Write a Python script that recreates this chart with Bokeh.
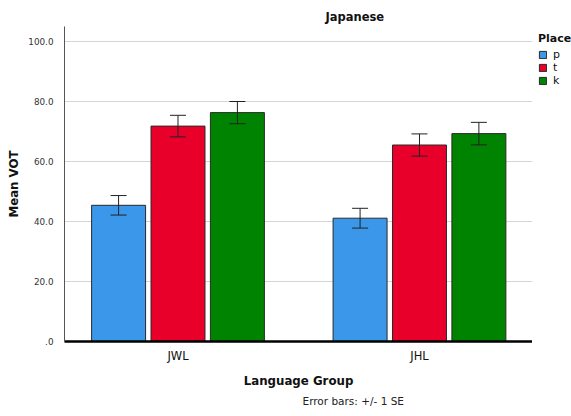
from bokeh.plotting import figure
from bokeh.layouts import row
from bokeh.models import (ColumnDataSource, Range1d, FixedTicker, Whisker, TeeHead,
                          Legend, LegendItem, Title)
from bokeh.transform import dodge
from bokeh.embed import file_html
from bokeh.resources import INLINE

# Mean VOT by language group and place of articulation, with +/- 1 SE
groups = ["JWL", "JHL"]
group_pos = [0, 1]
places = ["p", "t", "k"]
mean_p = [45.4, 41.1]
se_p = [3.25, 3.3]
mean_t = [71.8, 65.5]
se_t = [3.6, 3.7]
mean_k = [76.3, 69.3]
se_k = [3.7, 3.75]
y_ticks = [0, 20, 40, 60, 80, 100]
y_tick_labels = [".0", "20.0", "40.0", "60.0", "80.0", "100.0"]

colors = {"p": "#3a97ea", "t": "#e8002b", "k": "#008300"}
offsets = {"p": -0.246, "t": 0.0, "k": 0.246}
series = {"p": (mean_p, se_p), "t": (mean_t, se_t), "k": (mean_k, se_k)}

FONT = "DejaVu Sans"
BAR_LINE = "#2a2a2a"

p = figure(width=532, height=416, output_backend="svg", toolbar_location=None,
           x_range=Range1d(-0.470, 1.468), y_range=Range1d(0, 105),
           min_border_left=64, min_border_right=0, min_border_top=26,
           min_border_bottom=75)
p.outline_line_color = None
p.background_fill_color = "white"
p.border_fill_color = "white"

for place in places:
    means, ses = series[place]
    src = ColumnDataSource(dict(
        x=group_pos, top=means,
        lower=[m - s for m, s in zip(means, ses)],
        upper=[m + s for m, s in zip(means, ses)],
    ))
    p.vbar(x=dodge("x", offsets[place], range=p.x_range), top="top", bottom=0,
           width=0.2236, source=src, fill_color=colors[place],
           line_color=BAR_LINE, line_width=1)
    w = Whisker(base=dodge("x", offsets[place], range=p.x_range), lower="lower",
                upper="upper", source=src, level="overlay",
                line_color="#222222", line_width=1,
                upper_head=TeeHead(size=16, line_color="#222222", line_width=1),
                lower_head=TeeHead(size=16, line_color="#222222", line_width=1))
    p.add_layout(w)

# heading
p.title.text = "Japanese"
p.title.align = "left"
p.title.offset = 261
p.title.standoff = 6
p.title.text_font = FONT
p.title.text_font_style = "bold"
p.title.text_font_size = "11.5px"
p.title.text_color = "#111111"

# axes
p.xaxis.ticker = FixedTicker(ticks=group_pos)
p.xaxis.major_label_overrides = {gp: g for gp, g in zip(group_pos, groups)}
p.xaxis.axis_label = "Language Group"
p.xaxis.axis_line_color = "black"
p.xaxis.axis_line_width = 2.5
p.xaxis.major_tick_line_color = None
p.xaxis.minor_tick_line_color = None
p.xaxis.major_label_standoff = 1
p.xaxis.major_label_text_font = FONT
p.xaxis.major_label_text_font_size = "11.5px"
p.xaxis.major_label_text_color = "#111111"
p.xaxis.axis_label_standoff = 8
p.xaxis.axis_label_text_font = FONT
p.xaxis.axis_label_text_font_style = "bold"
p.xaxis.axis_label_text_font_size = "11.8px"
p.xaxis.axis_label_text_color = "#111111"

p.yaxis.ticker = FixedTicker(ticks=y_ticks)
p.yaxis.major_label_overrides = {t: lbl for t, lbl in zip(y_ticks, y_tick_labels)}
p.yaxis.axis_label = "Mean VOT"
p.yaxis.axis_line_color = "#555555"
p.yaxis.axis_line_width = 1
p.yaxis.major_tick_line_color = None
p.yaxis.minor_tick_line_color = None
p.yaxis.major_label_standoff = 5
p.yaxis.major_label_text_font = FONT
p.yaxis.major_label_text_font_size = "8.8px"
p.yaxis.major_label_text_color = "#333333"
p.yaxis.axis_label_standoff = 4
p.yaxis.axis_label_text_font = FONT
p.yaxis.axis_label_text_font_style = "bold"
p.yaxis.axis_label_text_font_size = "11.8px"
p.yaxis.axis_label_text_color = "#111111"

p.xgrid.grid_line_color = None
p.ygrid.grid_line_color = "#d4d4d4"
p.ygrid.grid_line_width = 1

# note under the axis title
p.add_layout(Title(text="Error bars: +/- 1 SE", align="left", offset=238,
                   standoff=4, text_font=FONT, text_font_style="normal",
                   text_font_size="10.5px", text_color="#222222"), "below")

# narrow strip on the right that carries the "Place" legend
side = figure(width=39, height=416, output_backend="svg", toolbar_location=None,
              x_range=Range1d(0, 1), y_range=Range1d(0, 1),
              min_border_left=0, min_border_right=0, min_border_top=25,
              min_border_bottom=0)
side.axis.visible = False
side.grid.visible = False
side.outline_line_color = None
side.border_fill_color = "white"

items = []
for place in places:
    # a single off-range key so the legend has a glyph to draw its swatch from
    swatch = side.vbar(x=[5], top=[5], bottom=[4], width=0.1,
                       fill_color=colors[place], line_color=BAR_LINE, line_width=1)
    items.append(LegendItem(label=place, renderers=[swatch]))

legend = Legend(items=items, title="Place", location="top_left",
                title_text_font=FONT, title_text_font_style="bold",
                title_text_font_size="11px", title_text_color="#111111",
                title_standoff=3,
                label_text_font=FONT, label_text_font_size="11px",
                label_text_color="#111111",
                glyph_width=9, glyph_height=9, label_height=9, label_standoff=6,
                spacing=0, padding=0, margin=6,
                border_line_alpha=0, background_fill_alpha=0)
side.add_layout(legend, "center")

open("out.html", "w").write(file_html(row(p, side), INLINE))
